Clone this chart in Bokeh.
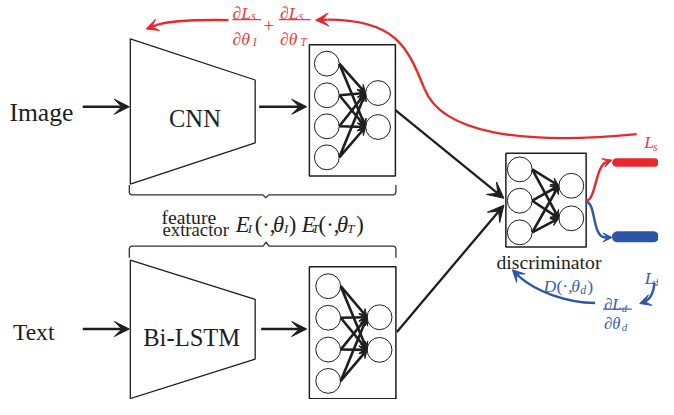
import numpy as np
from bokeh.plotting import figure
from bokeh.models import Range1d, Arrow, VeeHead, ColumnDataSource
from bokeh.core.properties import value, field
from bokeh.embed import file_html
from bokeh.resources import INLINE

BLACK = "#1e1e1e"
RED = "#e8282d"
RED_T = "#ec3a3f"
BLUE = "#2d55a6"
BLUE_T = "#3860ae"
SERIF = "Liberation Serif"
FS = 0.985  # font scale to follow the slight fit-to-window scaling

# ---------------- diagram content (reference pixel layout) ----------------
input_labels = ["Image", "Text"]
encoder_names = ["CNN", "Bi-LSTM"]

# encoders (trapezoids): left x, right x, left top/bottom, right top/bottom
trap_left = [131, 131]
trap_right = [257, 257]
trap_ltop = [40.7, 266.7]
trap_lbot = [189, 408]
trap_rtop = [82.7, 306.7]
trap_rbot = [147, 367.7]

# network boxes: image FC, text FC, discriminator
box_left = [311.7, 311.7, 510]
box_right = [398.5, 399, 591]
box_top = [46.7, 273.3, 157.5]
box_bottom = [180.7, 408.3, 253.3]

# neurons per box
net_lx = [329.3, 330.7, 524]
net_ly = [[66, 98.3, 130, 161.7], [293.3, 325.5, 358, 390], [174, 206, 238.3]]
net_rx = [381, 382.5, 576]
net_ry = [[96, 130.7], [325, 358.3], [190.7, 224]]
neuron_r = 12.6

# straight black arrows
arr_x0 = [83, 261, 83, 263]
arr_y0 = [110, 110, 337, 337]
arr_x1 = [130, 309, 130, 309]
arr_y1 = [110, 110, 337, 337]
diag_x0 = [398.5, 400]
diag_y0 = [113.5, 340]
diag_x1 = [508, 508]
diag_y1 = [203.5, 210.5]

# braces: x0, x1, middle x, y, end hook, tip
brace_x0 = [130, 130]
brace_x1 = [399, 399]
brace_xm = [267.7, 268]
brace_y = [200, 252.3]
brace_end = [-10, 12]
brace_tip = [3, -4]

# texts: label, x, y(baseline), size, colour, style, align
T = [
    ("Image", 9, 116, 26, BLACK, "normal", "left"),
    ("Text", 12.5, 340.5, 24, BLACK, "normal", "left"),
    ("CNN", 170, 122, 25, BLACK, "normal", "left"),
    ("Bi-LSTM", 144, 346, 25, BLACK, "normal", "left"),
    ("feature", 162.5, 222.5, 20, BLACK, "normal", "left"),
    ("extractor", 163.5, 235.5, 19, BLACK, "normal", "left"),
    ("discriminator", 500.5, 269, 20, BLACK, "normal", "left"),
    # E_I(.,theta_I) E_T(.,theta_T)
    ("E", 237.5, 230, 23, BLACK, "italic", "left"),
    ("I", 249.5, 235, 13, BLACK, "italic", "left"),
    ("(·,", 256.5, 230, 23, BLACK, "normal", "left"),
    ("θ", 275, 230, 23, BLACK, "italic", "left"),
    ("I", 286, 235, 13, BLACK, "italic", "left"),
    (")", 291, 230, 23, BLACK, "normal", "left"),
    ("E", 304, 230, 23, BLACK, "italic", "left"),
    ("T", 314, 235, 13, BLACK, "italic", "left"),
    ("(·,", 321, 230, 23, BLACK, "normal", "left"),
    ("θ", 339.5, 230, 23, BLACK, "italic", "left"),
    ("T", 350, 235, 13, BLACK, "italic", "left"),
    (")", 359, 230, 23, BLACK, "normal", "left"),
    # red gradient
    ("∂L", 234, 14, 18, RED_T, "italic", "left"),
    ("s", 253, 17.5, 12, RED_T, "italic", "left"),
    ("∂θ", 234, 40.5, 18, RED_T, "italic", "left"),
    ("I", 254.5, 44, 12, RED_T, "italic", "left"),
    ("+", 270.7, 27.5, 19, RED_T, "normal", "center"),
    ("∂L", 282, 14, 18, RED_T, "italic", "left"),
    ("s", 301, 17.5, 12, RED_T, "italic", "left"),
    ("∂θ", 282, 40.5, 18, RED_T, "italic", "left"),
    ("T", 302.5, 44, 12, RED_T, "italic", "left"),
    ("L", 649.5, 146.5, 18, RED_T, "italic", "left"),
    ("s", 658.5, 151, 12, RED_T, "italic", "left"),
    # blue
    ("L", 650, 285, 18, BLUE_T, "italic", "left"),
    ("d", 658.5, 289, 11, BLUE_T, "italic", "left"),
    ("D", 548, 293, 18, BLUE_T, "italic", "left"),
    ("(·,", 561, 293, 18, BLUE_T, "normal", "left"),
    ("θ", 576, 293, 18, BLUE_T, "italic", "left"),
    ("d", 585, 297, 12, BLUE_T, "italic", "left"),
    (")", 592, 293, 18, BLUE_T, "normal", "left"),
    ("∂L", 609, 312, 17, BLUE_T, "italic", "left"),
    ("d", 627, 315.5, 11, BLUE_T, "italic", "left"),
    ("∂θ", 609, 331.5, 17, BLUE_T, "italic", "left"),
    ("d", 627, 335, 11, BLUE_T, "italic", "left"),
]

# fraction bars
frac_x0 = [234, 281, 608]
frac_x1 = [263, 313, 637]
frac_y = [21, 21, 316.7]
frac_col = [RED_T, RED_T, BLUE_T]

# curves (cubic beziers): x0,y0,cx0,cy0,cx1,cy1,x1,y1,colour
curves = [
    (642, 138, 520, 150, 445, 135, 428, 92, RED),
    (428, 92, 411, 50, 400, 21, 330, 21, RED),
    (230, 21.5, 195, 21, 170, 22, 158, 26.5, RED),
    (591, 206, 601, 205, 600, 172, 611, 166.5, RED),
    (591, 207, 601, 208, 597, 243, 610, 243.5, BLUE),
    (600, 310.5, 570, 310, 540, 298, 524, 284, BLUE),
    (660, 290, 659, 301, 656, 306, 651, 309, BLUE),
]
# heads of curved arrows: from, to, size, colour
curve_heads = [
    (330, 21, 318, 21.7, 13, RED),
    (158, 26.5, 147, 30.5, 12, RED),
    (611, 166.5, 617, 164.5, 9, RED),
    (610, 243.5, 617, 243.5, 9, BLUE),
    (524, 284, 516.5, 276.5, 12, BLUE),
    (651, 309, 645, 311, 11, BLUE),
]

# output bars
bar_x0 = [621.5, 622.5]
bar_x1 = [660, 659]
bar_y = [167, 242.8]
bar_w = [8.5, 11]
bar_col = [RED, BLUE]

# ---------------- figure ----------------
p = figure(width=658, height=399, x_range=Range1d(0, 664), y_range=Range1d(409, 1.5),
           output_backend="svg", toolbar_location=None, min_border=0,
           x_axis_location=None, y_axis_location=None)
p.grid.visible = False
p.outline_line_color = None
p.background_fill_color = "white"

# trapezoids
for i in range(2):
    p.patch([trap_left[i], trap_right[i], trap_right[i], trap_left[i]],
            [trap_ltop[i], trap_rtop[i], trap_rbot[i], trap_lbot[i]],
            fill_color=None, line_color=BLACK, line_width=1.3)

# boxes
p.quad(left=box_left, right=box_right, top=box_top, bottom=box_bottom,
       fill_color=None, line_color=BLACK, line_width=1.5)

# braces
for i in range(2):
    x0, x1, xm, y, e, t = brace_x0[i], brace_x1[i], brace_xm[i], brace_y[i], brace_end[i], brace_tip[i]
    s = np.sign(e)
    r = 2.5
    xs = [x0, x0, x0 + 0.3 * r, x0 + r, xm - 3, xm, xm + 3, x1 - r, x1 - 0.3 * r, x1, x1]
    ys = [y + e, y + s * r, y + s * 0.3 * r, y, y, y + t, y, y, y + s * 0.3 * r, y + s * r, y + e]
    p.line(xs, ys, line_color="#333333", line_width=1.3)

# neurons
for b in range(3):
    p.scatter([net_lx[b]] * len(net_ly[b]), net_ly[b], size=2 * neuron_r * FS, marker="circle",
              fill_color="white", line_color=BLACK, line_width=1)
    p.scatter([net_rx[b]] * len(net_ry[b]), net_ry[b], size=2 * neuron_r * FS, marker="circle",
              fill_color="white", line_color=BLACK, line_width=1)

# neuron connections
for b in range(3):
    cx0, cy0, cx1, cy1 = [], [], [], []
    for ly in net_ly[b]:
        for ry in net_ry[b]:
            cx0.append(net_lx[b] + neuron_r)
            cy0.append(ly)
            cx1.append(net_rx[b] - neuron_r)
            cy1.append(ry)
    src = ColumnDataSource(dict(x0=cx0, y0=cy0, x1=cx1, y1=cy1))
    p.add_layout(Arrow(end=VeeHead(size=8, fill_color=BLACK, line_color=BLACK, line_width=1),
                       x_start="x0", y_start="y0", x_end="x1", y_end="y1", source=src,
                       line_color=BLACK, line_width=2.6))

# straight arrows
src = ColumnDataSource(dict(x0=arr_x0, y0=arr_y0, x1=arr_x1, y1=arr_y1))
p.add_layout(Arrow(end=VeeHead(size=15, fill_color=BLACK, line_color=BLACK, line_width=1),
                   x_start="x0", y_start="y0", x_end="x1", y_end="y1", source=src,
                   line_color=BLACK, line_width=2.6))
src = ColumnDataSource(dict(x0=diag_x0, y0=diag_y0, x1=diag_x1, y1=diag_y1))
p.add_layout(Arrow(end=VeeHead(size=16, fill_color=BLACK, line_color=BLACK, line_width=1),
                   x_start="x0", y_start="y0", x_end="x1", y_end="y1", source=src,
                   line_color=BLACK, line_width=2.3))

# curves
for c in curves:
    p.bezier(x0=[c[0]], y0=[c[1]], cx0=[c[2]], cy0=[c[3]], cx1=[c[4]], cy1=[c[5]],
             x1=[c[6]], y1=[c[7]], line_color=c[8], line_width=2.4)
for h in curve_heads:
    p.add_layout(Arrow(end=VeeHead(size=h[4], fill_color=h[5], line_color=h[5], line_width=1),
                       x_start=h[0], y_start=h[1], x_end=h[2], y_end=h[3],
                       line_color=h[5], line_width=2.4))

# output bars
p.segment(x0=bar_x0, y0=bar_y, x1=bar_x1, y1=bar_y, line_width=bar_w, line_color=bar_col, line_cap="round")

# fraction bars
p.segment(x0=frac_x0, y0=frac_y, x1=frac_x1, y1=frac_y, line_color=frac_col, line_width=1.2)

# texts
tsrc = ColumnDataSource(dict(
    text=[t[0] for t in T], x=[t[1] for t in T], y=[t[2] for t in T],
    size=[f"{t[3] * FS:.1f}px" for t in T], color=[t[4] for t in T],
    style=[t[5] for t in T], align=[t[6] for t in T]))
p.text(x="x", y="y", text="text", source=tsrc, text_font=value(SERIF),
       text_font_size=field("size"), text_color=field("color"),
       text_font_style=field("style"), text_align=field("align"), text_baseline="alphabetic")

open("out.html", "w").write(file_html(p, INLINE))
